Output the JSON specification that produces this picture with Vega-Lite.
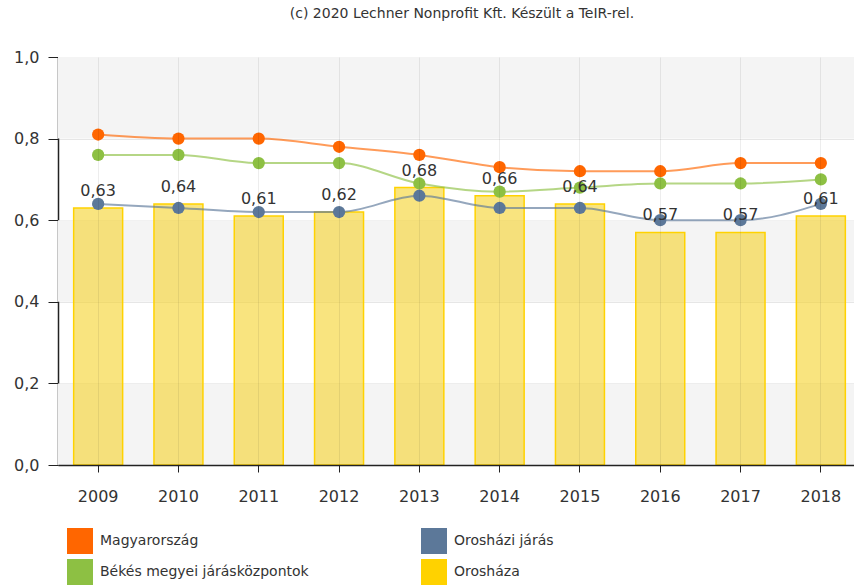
{
  "$schema": "https://vega.github.io/schema/vega-lite/v6.json",
  "width": 796,
  "height": 408,
  "autosize": {"type": "none"},
  "padding": {"left": 58, "top": 57, "right": 0, "bottom": 121},
  "background": "white",
  "title": {
    "text": "(c) 2020 Lechner Nonprofit Kft. Készült a TeIR-rel.",
    "font": "DejaVu Sans",
    "fontSize": 14,
    "fontWeight": "normal",
    "color": "#333333",
    "anchor": "middle",
    "baseline": "middle",
    "offset": 21,
    "dx": 6
  },
  "config": {
    "font": "DejaVu Sans",
    "locale": {"number": {"decimal": ",", "thousands": " ", "grouping": [3], "currency": ["", ""]}},
    "view": {"stroke": null}
  },
  "datasets": {
    "bands": [
      {"lo": 0.8, "hi": 1.0},
      {"lo": 0.4, "hi": 0.6},
      {"lo": 0.0, "hi": 0.2}
    ],
    "bars": [
      {"year": "2009", "value": 0.63},
      {"year": "2010", "value": 0.64},
      {"year": "2011", "value": 0.61},
      {"year": "2012", "value": 0.62},
      {"year": "2013", "value": 0.68},
      {"year": "2014", "value": 0.66},
      {"year": "2015", "value": 0.64},
      {"year": "2016", "value": 0.57},
      {"year": "2017", "value": 0.57},
      {"year": "2018", "value": 0.61}
    ],
    "lines": [
      {"year": "2009", "series": "Magyarország", "value": 0.81},
      {"year": "2010", "series": "Magyarország", "value": 0.80},
      {"year": "2011", "series": "Magyarország", "value": 0.80},
      {"year": "2012", "series": "Magyarország", "value": 0.78},
      {"year": "2013", "series": "Magyarország", "value": 0.76},
      {"year": "2014", "series": "Magyarország", "value": 0.73},
      {"year": "2015", "series": "Magyarország", "value": 0.72},
      {"year": "2016", "series": "Magyarország", "value": 0.72},
      {"year": "2017", "series": "Magyarország", "value": 0.74},
      {"year": "2018", "series": "Magyarország", "value": 0.74},
      {"year": "2009", "series": "Békés megyei járásközpontok", "value": 0.76},
      {"year": "2010", "series": "Békés megyei járásközpontok", "value": 0.76},
      {"year": "2011", "series": "Békés megyei járásközpontok", "value": 0.74},
      {"year": "2012", "series": "Békés megyei járásközpontok", "value": 0.74},
      {"year": "2013", "series": "Békés megyei járásközpontok", "value": 0.69},
      {"year": "2014", "series": "Békés megyei járásközpontok", "value": 0.67},
      {"year": "2015", "series": "Békés megyei járásközpontok", "value": 0.68},
      {"year": "2016", "series": "Békés megyei járásközpontok", "value": 0.69},
      {"year": "2017", "series": "Békés megyei járásközpontok", "value": 0.69},
      {"year": "2018", "series": "Békés megyei járásközpontok", "value": 0.70},
      {"year": "2009", "series": "Orosházi járás", "value": 0.64},
      {"year": "2010", "series": "Orosházi járás", "value": 0.63},
      {"year": "2011", "series": "Orosházi járás", "value": 0.62},
      {"year": "2012", "series": "Orosházi járás", "value": 0.62},
      {"year": "2013", "series": "Orosházi járás", "value": 0.66},
      {"year": "2014", "series": "Orosházi járás", "value": 0.63},
      {"year": "2015", "series": "Orosházi járás", "value": 0.63},
      {"year": "2016", "series": "Orosházi járás", "value": 0.60},
      {"year": "2017", "series": "Orosházi járás", "value": 0.60},
      {"year": "2018", "series": "Orosházi járás", "value": 0.64}
    ]
  },
  "encoding": {
    "y": {
      "type": "quantitative",
      "scale": {"domain": [0, 1], "nice": false, "zero": true},
      "axis": {
        "title": null,
        "values": [0, 0.2, 0.4, 0.6, 0.8, 1.0],
        "format": ".1f",
        "labelFontSize": 16,
        "labelColor": "#333333",
        "labelPadding": 9,
        "tickSize": 10,
        "tickColor": "#222222",
        "domainColor": "#222222",
        "domainWidth": 1.5,
        "gridColor": "#e6e6e6",
        "grid": true
      }
    }
  },
  "layer": [
    {
      "data": {"name": "bands"},
      "mark": {"type": "rect", "color": "#f4f4f4"},
      "encoding": {
        "y": {"field": "lo", "type": "quantitative"},
        "y2": {"field": "hi"}
      }
    },
    {
      "data": {"name": "bars"},
      "mark": {"type": "bar", "fill": "#F5D22A", "fillOpacity": 0.6, "stroke": "#FFD200", "strokeWidth": 1.5, "width": {"band": 0.61}},
      "encoding": {
        "x": {
          "field": "year",
          "type": "ordinal",
          "scale": {"range": [0, 803], "paddingInner": 0, "paddingOuter": 0},
          "axis": {
            "title": null,
            "labelAngle": 0,
            "labelFontSize": 16,
            "labelColor": "#333333",
            "labelPadding": 16,
            "tickSize": 7,
            "tickColor": "#222222",
            "domainColor": "#222222",
            "domainWidth": 1.5,
            "grid": true,
            "gridColor": "#000000",
            "gridOpacity": 0.07,
            "zindex": 1
          }
        },
        "y": {"field": "value", "type": "quantitative"}
      }
    },
    {
      "data": {"name": "lines"},
      "mark": {"type": "line", "interpolate": "monotone", "strokeWidth": 2, "strokeOpacity": 0.65},
      "encoding": {
        "x": {"field": "year", "type": "ordinal"},
        "y": {"field": "value", "type": "quantitative"},
        "color": {"field": "series", "type": "nominal"}
      }
    },
    {
      "data": {"name": "lines"},
      "mark": {"type": "point", "filled": true, "opacity": 1, "size": 150},
      "encoding": {
        "x": {"field": "year", "type": "ordinal"},
        "y": {"field": "value", "type": "quantitative"},
        "color": {
          "field": "series",
          "type": "nominal",
          "scale": {
            "domain": ["Magyarország", "Orosházi járás", "Békés megyei járásközpontok", "Orosháza"],
            "range": ["#FF6600", "#5C7899", "#8DC043", "#FFD200"]
          },
          "legend": {
            "title": null,
            "orient": "none",
            "legendX": 9,
            "legendY": 471,
            "direction": "horizontal",
            "columns": 2,
            "symbolType": "square",
            "symbolSize": 676,
            "symbolStrokeWidth": 0,
            "symbolOpacity": 1,
            "labelFontSize": 14,
            "labelColor": "#333333",
            "labelOffset": 7,
            "rowPadding": 5,
            "columnPadding": 112,
            "labelLimit": 300
          }
        }
      }
    },
    {
      "data": {"name": "bars"},
      "mark": {"type": "text", "baseline": "alphabetic", "dy": -12, "fontSize": 16, "color": "#333333"},
      "encoding": {
        "x": {"field": "year", "type": "ordinal"},
        "y": {"field": "value", "type": "quantitative"},
        "text": {"field": "value", "type": "quantitative", "format": ".2f"}
      }
    }
  ]
}
